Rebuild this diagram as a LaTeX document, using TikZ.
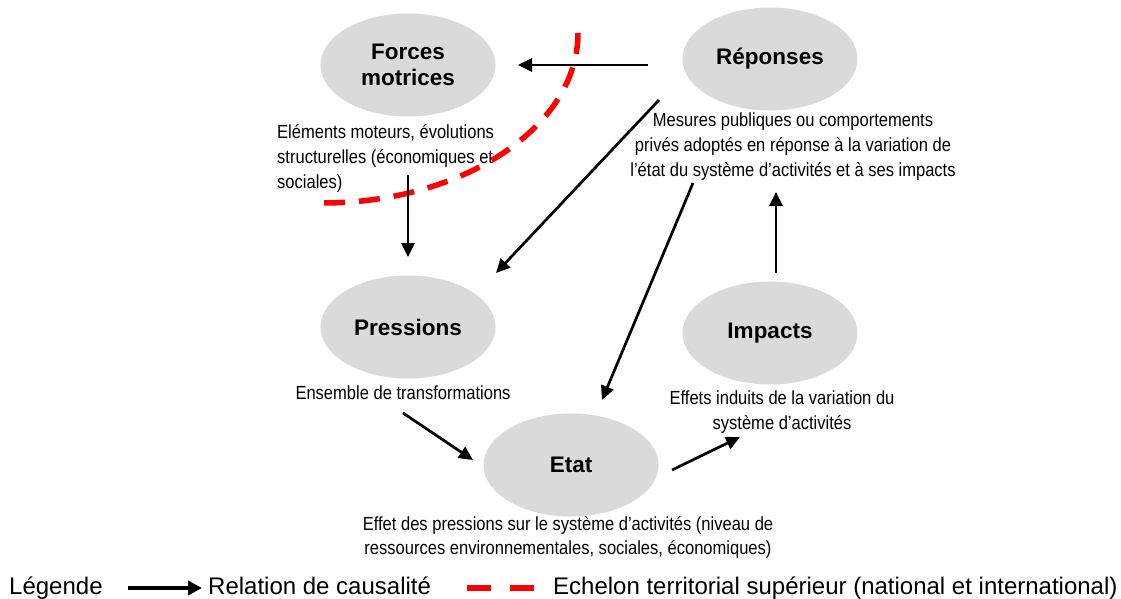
\documentclass[tikz,border=0pt]{standalone}
\usepackage{fontspec}
\setmainfont{Liberation Sans}
\newfontfamily\narrowfont[FakeStretch=0.87]{Liberation Sans}
\usetikzlibrary{arrows.meta,shapes.geometric}
\definecolor{bubblegray}{RGB}{218,218,218}
\begin{document}
\begin{tikzpicture}[x=1pt,y=-1pt,
  bubble/.style={ellipse, fill=bubblegray, minimum width=175pt, minimum height=103pt, inner sep=0pt, align=center, font=\bfseries\fontsize{22.5}{26}\selectfont},
  desc/.style={inner sep=0pt, font=\narrowfont\fontsize{19}{25}\selectfont},
  legendtext/.style={inner sep=0pt, anchor=base west, font=\fontsize{24}{26}\selectfont},
  causal/.style={line width=2.7pt, -{Triangle[length=14pt,width=13pt]}},
  legendarrow/.style={line width=3.5pt, -{Triangle[length=14pt,width=14pt]}},
  echelon/.style={draw=red, line width=5.5pt, dash pattern=on 21pt off 14pt},
  legenddash/.style={draw=red, line width=6.5pt, dash pattern=on 24pt off 19pt}
]
\path[use as bounding box] (0,0) rectangle (1121,599);

% bubbles
\node[bubble] (forces) at (408,65) {Forces\\motrices};
\node[bubble] (reponses) at (770,59) {Réponses};
\node[bubble] (pressions) at (408,327) {Pressions};
\node[bubble] (impacts) at (770,333) {Impacts};
\node[bubble] (etat) at (571,465) {Etat};

% descriptions
\node[desc, anchor=west, align=left] (descF) at (277,158) {Eléments moteurs, évolutions\\structurelles (économiques et\\sociales)};
\node[desc, align=center] (descR) at (793,147) {Mesures publiques ou comportements\\privés adoptés en réponse à la variation de\\l’état du système d’activités et à ses impacts};
\node[desc, align=center] (descP) at (403,393) {Ensemble de transformations};
\node[desc, align=center] (descI) at (782,412) {Effets induits de la variation du\\système d’activités};
\node[desc, align=center, font=\narrowfont\fontsize{19}{24}\selectfont] (descE) at (568,537) {Effet des pressions sur le système d’activités (niveau de\\ressources environnementales, sociales, économiques)};

% red dashed boundary
\coordinate (ech) at (578,33);
\draw[echelon] (ech) arc[start angle=0, end angle=90, x radius=256, y radius=170];

% causal arrows
\coordinate (rf1) at (648,65);   \coordinate (rf2) at (518,65);
\coordinate (rp1) at (659,100);  \coordinate (rp2) at (496,273);
\coordinate (re1) at (693,183);  \coordinate (re2) at (602,400);
\coordinate (fp1) at (408,175);  \coordinate (fp2) at (408,257);
\coordinate (pe1) at (403,413);  \coordinate (pe2) at (473,460);
\coordinate (ei1) at (672,470);  \coordinate (ei2) at (740,437);
\coordinate (ir1) at (776,273);  \coordinate (ir2) at (776,192);
\draw[causal] (rf1) -- (rf2);
\draw[causal] (rp1) -- (rp2);
\draw[causal] (re1) -- (re2);
\draw[causal] (fp1) -- (fp2);
\draw[causal] (pe1) -- (pe2);
\draw[causal] (ei1) -- (ei2);
\draw[causal] (ir1) -- (ir2);

% legend
\node[legendtext] (leg) at (9,594) {Légende};
\coordinate (la1) at (128,588); \coordinate (la2) at (202,588);
\draw[legendarrow] (la1) -- (la2);
\node[legendtext] (legc) at (208,594) {Relation de causalité};
\coordinate (ld1) at (467,588); \coordinate (ld2) at (534,588);
\draw[legenddash] (ld1) -- (ld2);
\node[legendtext] (lege) at (553,594) {Echelon territorial supérieur (national et international)};
\end{tikzpicture}
\end{document}
